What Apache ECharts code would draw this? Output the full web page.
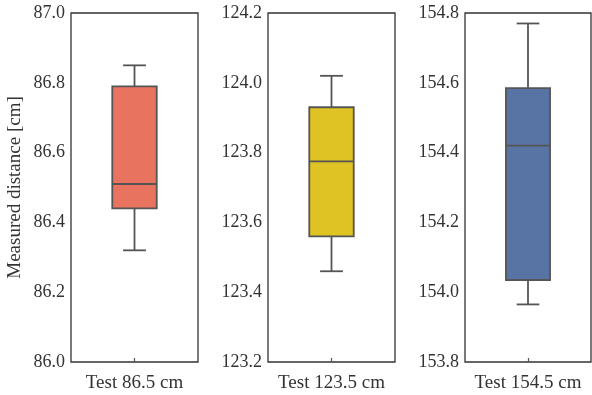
<!DOCTYPE html>
<html>
<head>
<meta charset="utf-8">
<script src="https://cdn.jsdelivr.net/npm/echarts@6/dist/echarts.min.js"></script>
<style>
  html, body { margin: 0; padding: 0; background: #fff; }
  #chart { width: 592px; height: 395px; }
</style>
</head>
<body>
<div id="chart"></div>
<script>
// one box per test: [lower whisker, Q1, median, Q3, upper whisker]
var categories = ["Test 86.5 cm", "Test 123.5 cm", "Test 154.5 cm"];
var test86 = [86.32, 86.44, 86.51, 86.79, 86.85];
var test123 = [123.46, 123.56, 123.775, 123.93, 124.02];
var test154 = [153.965, 154.035, 154.42, 154.585, 154.77];
var yMins = [86.0, 123.2, 153.8];
var yMaxs = [87.0, 124.2, 154.8];
var colors = ["#E8735F", "#DFC224", "#5874A5"];

var boxes = [test86, test123, test154];
var font = "Liberation Serif";
var lineColor = "#555555";

var myChart = echarts.init(document.getElementById("chart"));

var grids = [
  { left: 71, width: 127, top: 13, height: 349 },
  { left: 268, width: 127, top: 13, height: 349 },
  { left: 465, width: 126, top: 13, height: 349 }
];

var xAxes = [], yAxes = [], series = [];
for (var i = 0; i < 3; i++) {
  grids[i].show = true;
  grids[i].borderColor = "#333";
  grids[i].borderWidth = 1.3;
  xAxes.push({
    type: "category",
    gridIndex: i,
    data: [categories[i]],
    axisLine: { show: false },
    axisTick: { show: true, inside: true, length: 4, alignWithLabel: true, lineStyle: { color: "#555", width: 1.2 } },
    axisLabel: { fontFamily: font, fontSize: 19, color: "#333", margin: 12 }
  });
  yAxes.push({
    type: "value",
    gridIndex: i,
    min: yMins[i],
    max: yMaxs[i],
    interval: 0.2,
    splitLine: { show: false },
    axisLine: { show: false },
    axisTick: { show: false },
    axisLabel: {
      fontFamily: font, fontSize: 18, color: "#333", margin: 6,
      formatter: function (v) { return v.toFixed(1); }
    },
    name: i === 0 ? "Measured distance [cm]" : "",
    nameLocation: "middle",
    nameRotate: 90,
    nameGap: 46,
    nameTextStyle: { fontFamily: font, fontSize: 19, color: "#333" }
  });
  series.push({
    type: "custom",
    xAxisIndex: i,
    yAxisIndex: i,
    data: [[0].concat(boxes[i])],
    encode: { x: 0, y: [1, 2, 3, 4, 5] },
    renderItem: (function (col) {
      return function (params, api) {
        var band = api.size([1, 0])[0];
        var half = band * 0.175;
        var cap = band * 0.09;
        var c = api.coord([0, api.value(1)]);
        var x = c[0];
        var yMin = c[1];
        var yQ1 = api.coord([0, api.value(2)])[1];
        var yMed = api.coord([0, api.value(3)])[1];
        var yQ3 = api.coord([0, api.value(4)])[1];
        var yMax = api.coord([0, api.value(5)])[1];
        var st = { stroke: lineColor, lineWidth: 1.8 };
        return {
          type: "group",
          children: [
            { type: "line", shape: { x1: x, y1: yQ1, x2: x, y2: yMin }, style: st },
            { type: "line", shape: { x1: x, y1: yQ3, x2: x, y2: yMax }, style: st },
            { type: "line", shape: { x1: x - cap, y1: yMin, x2: x + cap, y2: yMin }, style: st },
            { type: "line", shape: { x1: x - cap, y1: yMax, x2: x + cap, y2: yMax }, style: st },
            { type: "rect", shape: { x: x - half, y: yQ3, width: half * 2, height: yQ1 - yQ3 },
              style: { fill: col, stroke: lineColor, lineWidth: 1.8 } },
            { type: "line", shape: { x1: x - half, y1: yMed, x2: x + half, y2: yMed }, style: st }
          ]
        };
      };
    })(colors[i])
  });
}

var option = {
  animation: false,
  backgroundColor: "#fff",
  grid: grids,
  xAxis: xAxes,
  yAxis: yAxes,
  series: series
};
myChart.setOption(option);
</script>
</body>
</html>
